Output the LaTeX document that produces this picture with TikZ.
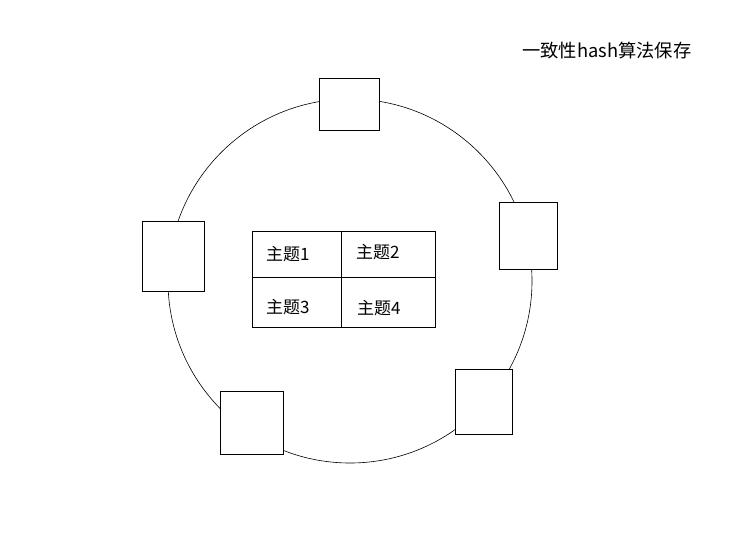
\documentclass[tikz,border=0pt]{standalone}
\usepackage{fontspec}
\newfontfamily\cjk{Noto Sans CJK SC}
\begin{document}
\begin{tikzpicture}[x=1pt,y=-1pt,
  nodebox/.style={draw=black,fill=white,line width=0.8pt},
  cell/.style={draw=black,line width=0.8pt},
  lbl/.style={font=\cjk\fontsize{17}{20}\selectfont,inner sep=0pt,anchor=west}]
\useasboundingbox[fill=white] (0,0) rectangle (754,552);
\node[draw=black,line width=0.6pt,circle,minimum size=364pt,inner sep=0pt] (ring) at (350,281) {};
\draw[nodebox] (319,78) rectangle (379,130) coordinate (b1);
\draw[nodebox] (499,202) rectangle (557,269) coordinate (b2);
\draw[nodebox] (142,221) rectangle (204,291) coordinate (b3);
\draw[nodebox] (220,391) rectangle (283,454) coordinate (b4);
\draw[nodebox] (455,369) rectangle (512,434) coordinate (b5);
\draw[cell] (252,231) rectangle (435,327) coordinate (tab);
\draw[cell] (341,231) -- (341,327);
\draw[cell] (252,277) -- (435,277);
\node[lbl] (t1) at (266,254) {主题1};
\node[lbl] (t2) at (356,252) {主题2};
\node[lbl] (t3) at (266,307) {主题3};
\node[lbl] (t4) at (357,308) {主题4};
\node[lbl,font=\cjk\fontsize{18.3}{21}\selectfont] (title) at (522,51) {一致性hash算法保存};
\end{tikzpicture}
\end{document}
